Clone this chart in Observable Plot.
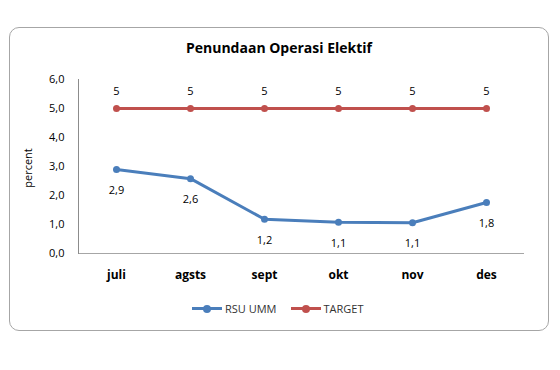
<!DOCTYPE html>
<html><head><meta charset="utf-8">
<script src="https://cdn.jsdelivr.net/npm/d3@7"></script>
<script src="https://cdn.jsdelivr.net/npm/@observablehq/plot@0.6"></script>
<style>
body{margin:0;background:#fff;font-family:"Open Sans",sans-serif;}
#wrap{position:relative;width:560px;height:370px;overflow:hidden;}
#frame{position:absolute;left:9px;top:27px;width:540px;height:304px;border:1px solid #a6a6a6;border-radius:10px;box-sizing:border-box;}
#title{position:absolute;left:9px;width:540px;top:38px;text-align:center;font-weight:bold;font-size:14px;color:#000;}
#ylabel{position:absolute;left:27px;top:168px;transform:translate(-50%,-50%) rotate(-90deg);font-size:11px;color:#000;white-space:nowrap;}
#legend{position:absolute;top:301px;left:192px;font-size:11px;color:#333;display:flex;align-items:center;}
#legend .sw{display:inline-block;position:relative;width:30px;height:3px;margin-right:3px;}
#legend .sw i{position:absolute;left:11px;top:-2.5px;width:8px;height:8px;border-radius:4px;}
#plot{position:absolute;left:0;top:0;}
</style></head>
<body><div id="wrap"><div id="frame"></div><div id="title">Penundaan Operasi Elektif</div><div id="plot"></div>
<div id="ylabel">percent</div>
<div id="legend"><span class="sw" style="background:#4A7EBB"><i style="background:#4A7EBB"></i></span><span style="margin-right:14px">RSU UMM</span><span class="sw" style="background:#C0504D"><i style="background:#C0504D"></i></span><span>TARGET</span></div>
</div>
<script>
const months = ["juli","agsts","sept","okt","nov","des"];
const rsuValues = [2.9, 2.58, 1.18, 1.08, 1.06, 1.76];
const targetValues = [5, 5, 5, 5, 5, 5];
const yTicks = [0,1,2,3,4,5,6];

const rsu = months.map((m,i)=>({month:m, value:rsuValues[i]}));
const target = months.map((m,i)=>({month:m, value:targetValues[i]}));
const fmt1 = v => v.toFixed(1).replace(".", ",");

const chart = Plot.plot({
  width:560, height:370,
  marginLeft:78, marginRight:36, marginTop:79, marginBottom:117,
  style:{background:"transparent", fontFamily:"Open Sans, sans-serif", fontSize:"11px", color:"#000"},
  x:{type:"point", domain:months, padding:0.5, label:null, tickSize:0, tickPadding:17},
  y:{domain:[0,6], ticks:yTicks, tickFormat:fmt1, tickSize:0, tickPadding:14, label:null},
  marks:[
    Plot.ruleY([0], {stroke:"#a6a6a6"}),
    Plot.line(target, {x:"month", y:"value", stroke:"#C0504D", strokeWidth:3}),
    Plot.dot(target, {x:"month", y:"value", fill:"#C0504D", r:3.5}),
    Plot.text(target, {x:"month", y:"value", text:d=>String(d.value), dy:-17, fontSize:11}),
    Plot.line(rsu, {x:"month", y:"value", stroke:"#4A7EBB", strokeWidth:3}),
    Plot.dot(rsu, {x:"month", y:"value", fill:"#4A7EBB", r:3.5}),
    Plot.text(rsu, {x:"month", y:"value", text:d=>fmt1(d.value), dy:21, fontSize:11})
  ]
});
document.getElementById("plot").appendChild(chart);
d3.select(chart).selectAll("[aria-label='x-axis tick label'] text").style("font-weight","bold").style("font-size","12px");
// vertical y-axis line at the left edge of the x range, spanning the y scale's range
const yr = chart.scale("y").range;
const xr = chart.scale("x").range;
const xLeft = Math.min(xr[0], xr[1]) + 0.5;
d3.select(chart).append("line")
  .attr("x1", xLeft).attr("x2", xLeft)
  .attr("y1", Math.max(yr[0], yr[1]) + 0.5).attr("y2", Math.min(yr[0], yr[1]))
  .attr("stroke", "#8c8c8c").attr("stroke-width", 1)
  .attr("shape-rendering", "crispEdges");
</script></body></html>
